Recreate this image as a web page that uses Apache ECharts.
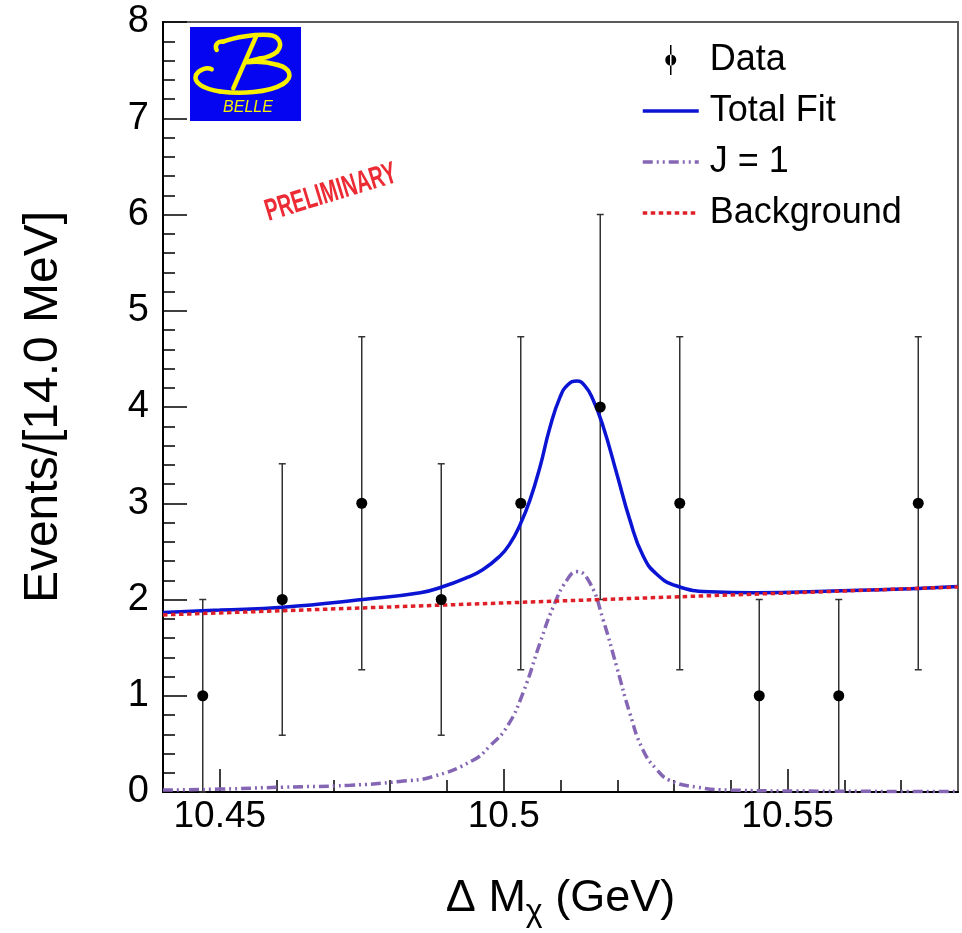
<!DOCTYPE html>
<html>
<head>
<meta charset="utf-8">
<script src="https://cdn.jsdelivr.net/npm/echarts@6/dist/echarts.min.js"></script>
<style>
html,body{margin:0;padding:0;background:#fff;}
#chart{width:962px;height:933px;}
</style>
</head>
<body>
<div id="chart"></div>
<script>
// ---- Data ----
const binCenters = [10.447, 10.461, 10.475, 10.489, 10.503, 10.517, 10.531, 10.545, 10.559, 10.573];
const counts     = [1, 2, 3, 2, 3, 4, 3, 1, 1, 3];
const errors     = [1.0, 1.41, 1.73, 1.41, 1.73, 2.0, 1.73, 1.0, 1.0, 1.73];

const fitX = [10.440, 10.450, 10.4611, 10.4752, 10.4853, 10.4891, 10.4932, 10.4963, 10.4993, 10.5011, 10.5029, 10.5046, 10.5064, 10.5081, 10.5099, 10.5113, 10.5129, 10.5143, 10.5157, 10.5175, 10.5199, 10.5222, 10.5245, 10.5270, 10.5305, 10.5363, 10.5441, 10.5594, 10.5729, 10.580];
const fitY = [1.865, 1.89, 1.92, 2.00, 2.07, 2.13, 2.22, 2.31, 2.45, 2.58, 2.78, 3.03, 3.38, 3.78, 4.10, 4.23, 4.27, 4.22, 4.08, 3.80, 3.31, 2.83, 2.46, 2.26, 2.14, 2.08, 2.07, 2.09, 2.115, 2.135];

const sigX = [10.440, 10.450, 10.461, 10.473, 10.4817, 10.4875, 10.4946, 10.4976, 10.5006, 10.5034, 10.5064, 10.5087, 10.5111, 10.5129, 10.5152, 10.5175, 10.5199, 10.5222, 10.5245, 10.5270, 10.5293, 10.5340, 10.540, 10.552, 10.580];
const sigY = [0.02, 0.03, 0.05, 0.07, 0.11, 0.16, 0.33, 0.48, 0.68, 1.03, 1.55, 1.92, 2.20, 2.29, 2.17, 1.79, 1.30, 0.82, 0.44, 0.23, 0.12, 0.05, 0.02, 0.01, 0.005];

const bgX = [10.44, 10.58];
const bgY = [1.84, 2.13];

const xMajorTicks = [10.45, 10.5, 10.55];
const xTickLabels = ['10.45', '10.5', '10.55'];
const xMinorTicks = [10.45, 10.46, 10.47, 10.48, 10.49, 10.5, 10.51, 10.52, 10.53, 10.54, 10.55, 10.56, 10.57];

const seriesNames = ['Data', 'Total Fit', 'J = 1', 'Background'];

// ---- build ----
const FONT = 'Liberation Sans, Arial, Helvetica, sans-serif';
const zip = (a, b) => a.map((v, i) => [v, b[i]]);
const dataPts = binCenters.map((x, i) => [x, counts[i]]);
const errPts = binCenters.map((x, i) => [x, counts[i], errors[i]]);

const BLUE = '#0a14d2', PURPLE = '#8466b4', RED = '#de1f27';
const SIG_DASH = [10, 4, 2, 4, 2, 4], BG_DASH = [4.5, 3.5];

const chart = echarts.init(document.getElementById('chart'), null, {renderer: 'canvas'});

const dataIcon = 'path://M27.25,0 L28.75,0 L28.75,30 L27.25,30 Z M22.5,15 A5.5,5.5 0 1,0 33.5,15 A5.5,5.5 0 1,0 22.5,15 Z';

// logo stroke helper (decoration, not data)
const YEL = '#f7f000';
const bz = (x1, y1, c1x, c1y, c2x, c2y, x2, y2) => ({
  type: 'bezierCurve',
  shape: {x1: x1, y1: y1, cpx1: c1x, cpy1: c1y, cpx2: c2x, cpy2: c2y, x2: x2, y2: y2},
  style: {stroke: YEL, lineWidth: 4.5, fill: null, lineCap: 'round'}
});
const ln = (x1, y1, x2, y2) => ({
  type: 'line', shape: {x1: x1, y1: y1, x2: x2, y2: y2},
  style: {stroke: YEL, lineWidth: 4.5, lineCap: 'round'}
});

const option = {
  animation: false,
  backgroundColor: '#fff',
  grid: {left: 163, top: 22, width: 795, height: 770, show: true, borderColor: '#5a5a5a', borderWidth: 2, backgroundColor: 'transparent'},
  legend: {
    orient: 'vertical', left: 636, top: 37, itemWidth: 56, itemHeight: 30, itemGap: 15,
    selectedMode: false,
    textStyle: {fontSize: 36, fontFamily: FONT, color: '#000', padding: [0, 0, 0, 6]},
    data: [
      {name: seriesNames[0], icon: dataIcon},
      {name: seriesNames[1], itemStyle: {opacity: 0}, lineStyle: {width: 3.5, color: BLUE}},
      {name: seriesNames[2], itemStyle: {opacity: 0}, lineStyle: {width: 3.5, color: PURPLE, type: SIG_DASH}},
      {name: seriesNames[3], itemStyle: {opacity: 0}, lineStyle: {width: 3.5, color: RED, type: BG_DASH}}
    ]
  },
  xAxis: [
    {
      type: 'value', min: 10.44, max: 10.58, gridIndex: 0, position: 'bottom',
      axisLine: {show: true, onZero: false, lineStyle: {color: '#000', width: 2}},
      axisTick: {show: true, inside: true, length: 23, customValues: xMajorTicks, lineStyle: {color: '#000', width: 1.5}},
      axisLabel: {show: true, customValues: xMajorTicks, margin: 6, fontSize: 37, fontFamily: FONT, color: '#000',
        formatter: v => { const i = xMajorTicks.findIndex(t => Math.abs(t - v) < 1e-6); return i >= 0 ? xTickLabels[i] : ''; }},
      splitLine: {show: false},
      name: '{a|Δ M}{s|χ}{a| (GeV)}', nameLocation: 'middle', nameGap: 78,
      nameTextStyle: {
        rich: {
          a: {fontSize: 45, fontFamily: FONT, color: '#000', lineHeight: 58, verticalAlign: 'middle'},
          s: {fontSize: 32, fontFamily: FONT, color: '#000', lineHeight: 30, verticalAlign: 'bottom'}
        }
      }
    },
    {
      type: 'value', min: 10.44, max: 10.58, gridIndex: 0, position: 'bottom',
      axisLine: {show: false, onZero: false},
      axisTick: {show: true, inside: true, length: 12, customValues: xMinorTicks, lineStyle: {color: '#000', width: 1.5}},
      axisLabel: {show: false},
      splitLine: {show: false}
    }
  ],
  yAxis: {
    type: 'value', min: 0, max: 8, interval: 1,
    axisLine: {show: true, lineStyle: {color: '#000', width: 2}},
    axisTick: {show: true, inside: true, length: 24, lineStyle: {color: '#000', width: 1.5}},
    minorTick: {show: true, splitNumber: 5, length: 12, lineStyle: {color: '#000', width: 1.5}},
    axisLabel: {fontSize: 38, fontFamily: FONT, color: '#000', margin: 14},
    splitLine: {show: false},
    name: 'Events/[14.0 MeV]', nameLocation: 'middle', nameGap: 95, nameRotate: 90,
    nameTextStyle: {fontSize: 48, fontFamily: FONT, color: '#000'}
  },
  series: [
    {
      type: 'custom', name: 'errbars', xAxisIndex: 0, data: errPts, encode: {x: 0, y: 1}, z: 2,
      renderItem: function (params, api) {
        const x = api.value(0), y = api.value(1), e = api.value(2);
        const top = api.coord([x, y + e]);
        const bot = api.coord([x, Math.max(0, y - e)]);
        const c = 3.5;
        const st = {stroke: '#333', lineWidth: 1.5};
        return {type: 'group', children: [
          {type: 'line', shape: {x1: top[0], y1: top[1], x2: bot[0], y2: bot[1]}, style: st},
          {type: 'line', shape: {x1: top[0] - c, y1: top[1], x2: top[0] + c, y2: top[1]}, style: st},
          {type: 'line', shape: {x1: bot[0] - c, y1: bot[1], x2: bot[0] + c, y2: bot[1]}, style: st}
        ]};
      }
    },
    {
      type: 'line', name: seriesNames[1], xAxisIndex: 0, data: zip(fitX, fitY), smooth: true,
      symbol: 'none', showSymbol: false, z: 3,
      lineStyle: {color: BLUE, width: 3.5}, itemStyle: {color: BLUE}
    },
    {
      type: 'line', name: seriesNames[2], xAxisIndex: 0, data: zip(sigX, sigY), smooth: true,
      symbol: 'none', showSymbol: false, z: 3,
      lineStyle: {color: PURPLE, width: 3.5, type: SIG_DASH}, itemStyle: {color: PURPLE}
    },
    {
      type: 'line', name: seriesNames[3], xAxisIndex: 0, data: zip(bgX, bgY),
      symbol: 'none', showSymbol: false, z: 3,
      lineStyle: {color: RED, width: 3.5, type: BG_DASH}, itemStyle: {color: RED}
    },
    {
      type: 'scatter', name: seriesNames[0], xAxisIndex: 0, data: dataPts, symbol: 'circle', symbolSize: 11, z: 5,
      itemStyle: {color: '#000', opacity: 1}
    }
  ],
  graphic: [
    {
      type: 'text', x: 331, y: 193, rotation: 17 * Math.PI / 180, scaleX: 0.64, z: 10,
      style: {text: 'PRELIMINARY', font: 'bold 31px ' + FONT, fill: '#ec2b35', align: 'center', verticalAlign: 'middle'}
    },
    {
      type: 'group', x: 190, y: 27, z: 10,
      children: [
        {type: 'rect', shape: {x: 0, y: 0, width: 111, height: 94}, style: {fill: '#0505f2'}},
        bz(26.7, 23, 24, 18, 28, 14, 33, 14.7),
        bz(33, 14.7, 45, 10, 66, 7, 79, 8),
        bz(79, 8, 90, 9, 93, 18, 87, 24.7),
        bz(87, 24.7, 82, 29, 74, 31, 70, 31.5),
        ln(70, 31.5, 56.7, 34.7),
        ln(66, 9.7, 43.3, 61.3),
        bz(21.7, 42.3, 17, 40, 9, 42, 6, 48),
        bz(6, 48, 3, 56, 14, 62, 30, 64.5),
        bz(30, 64.5, 50, 67, 78, 66, 93, 57),
        bz(93, 57, 104, 50, 100, 41, 88, 38),
        bz(88, 38, 78, 35, 66, 34, 56.7, 35.3),
        {type: 'text', x: 58, y: 81, style: {text: 'BELLE', font: 'italic 16px ' + FONT, fill: YEL, align: 'center', verticalAlign: 'middle'}}
      ]
    }
  ]
};
chart.setOption(option);
</script>
</body>
</html>
